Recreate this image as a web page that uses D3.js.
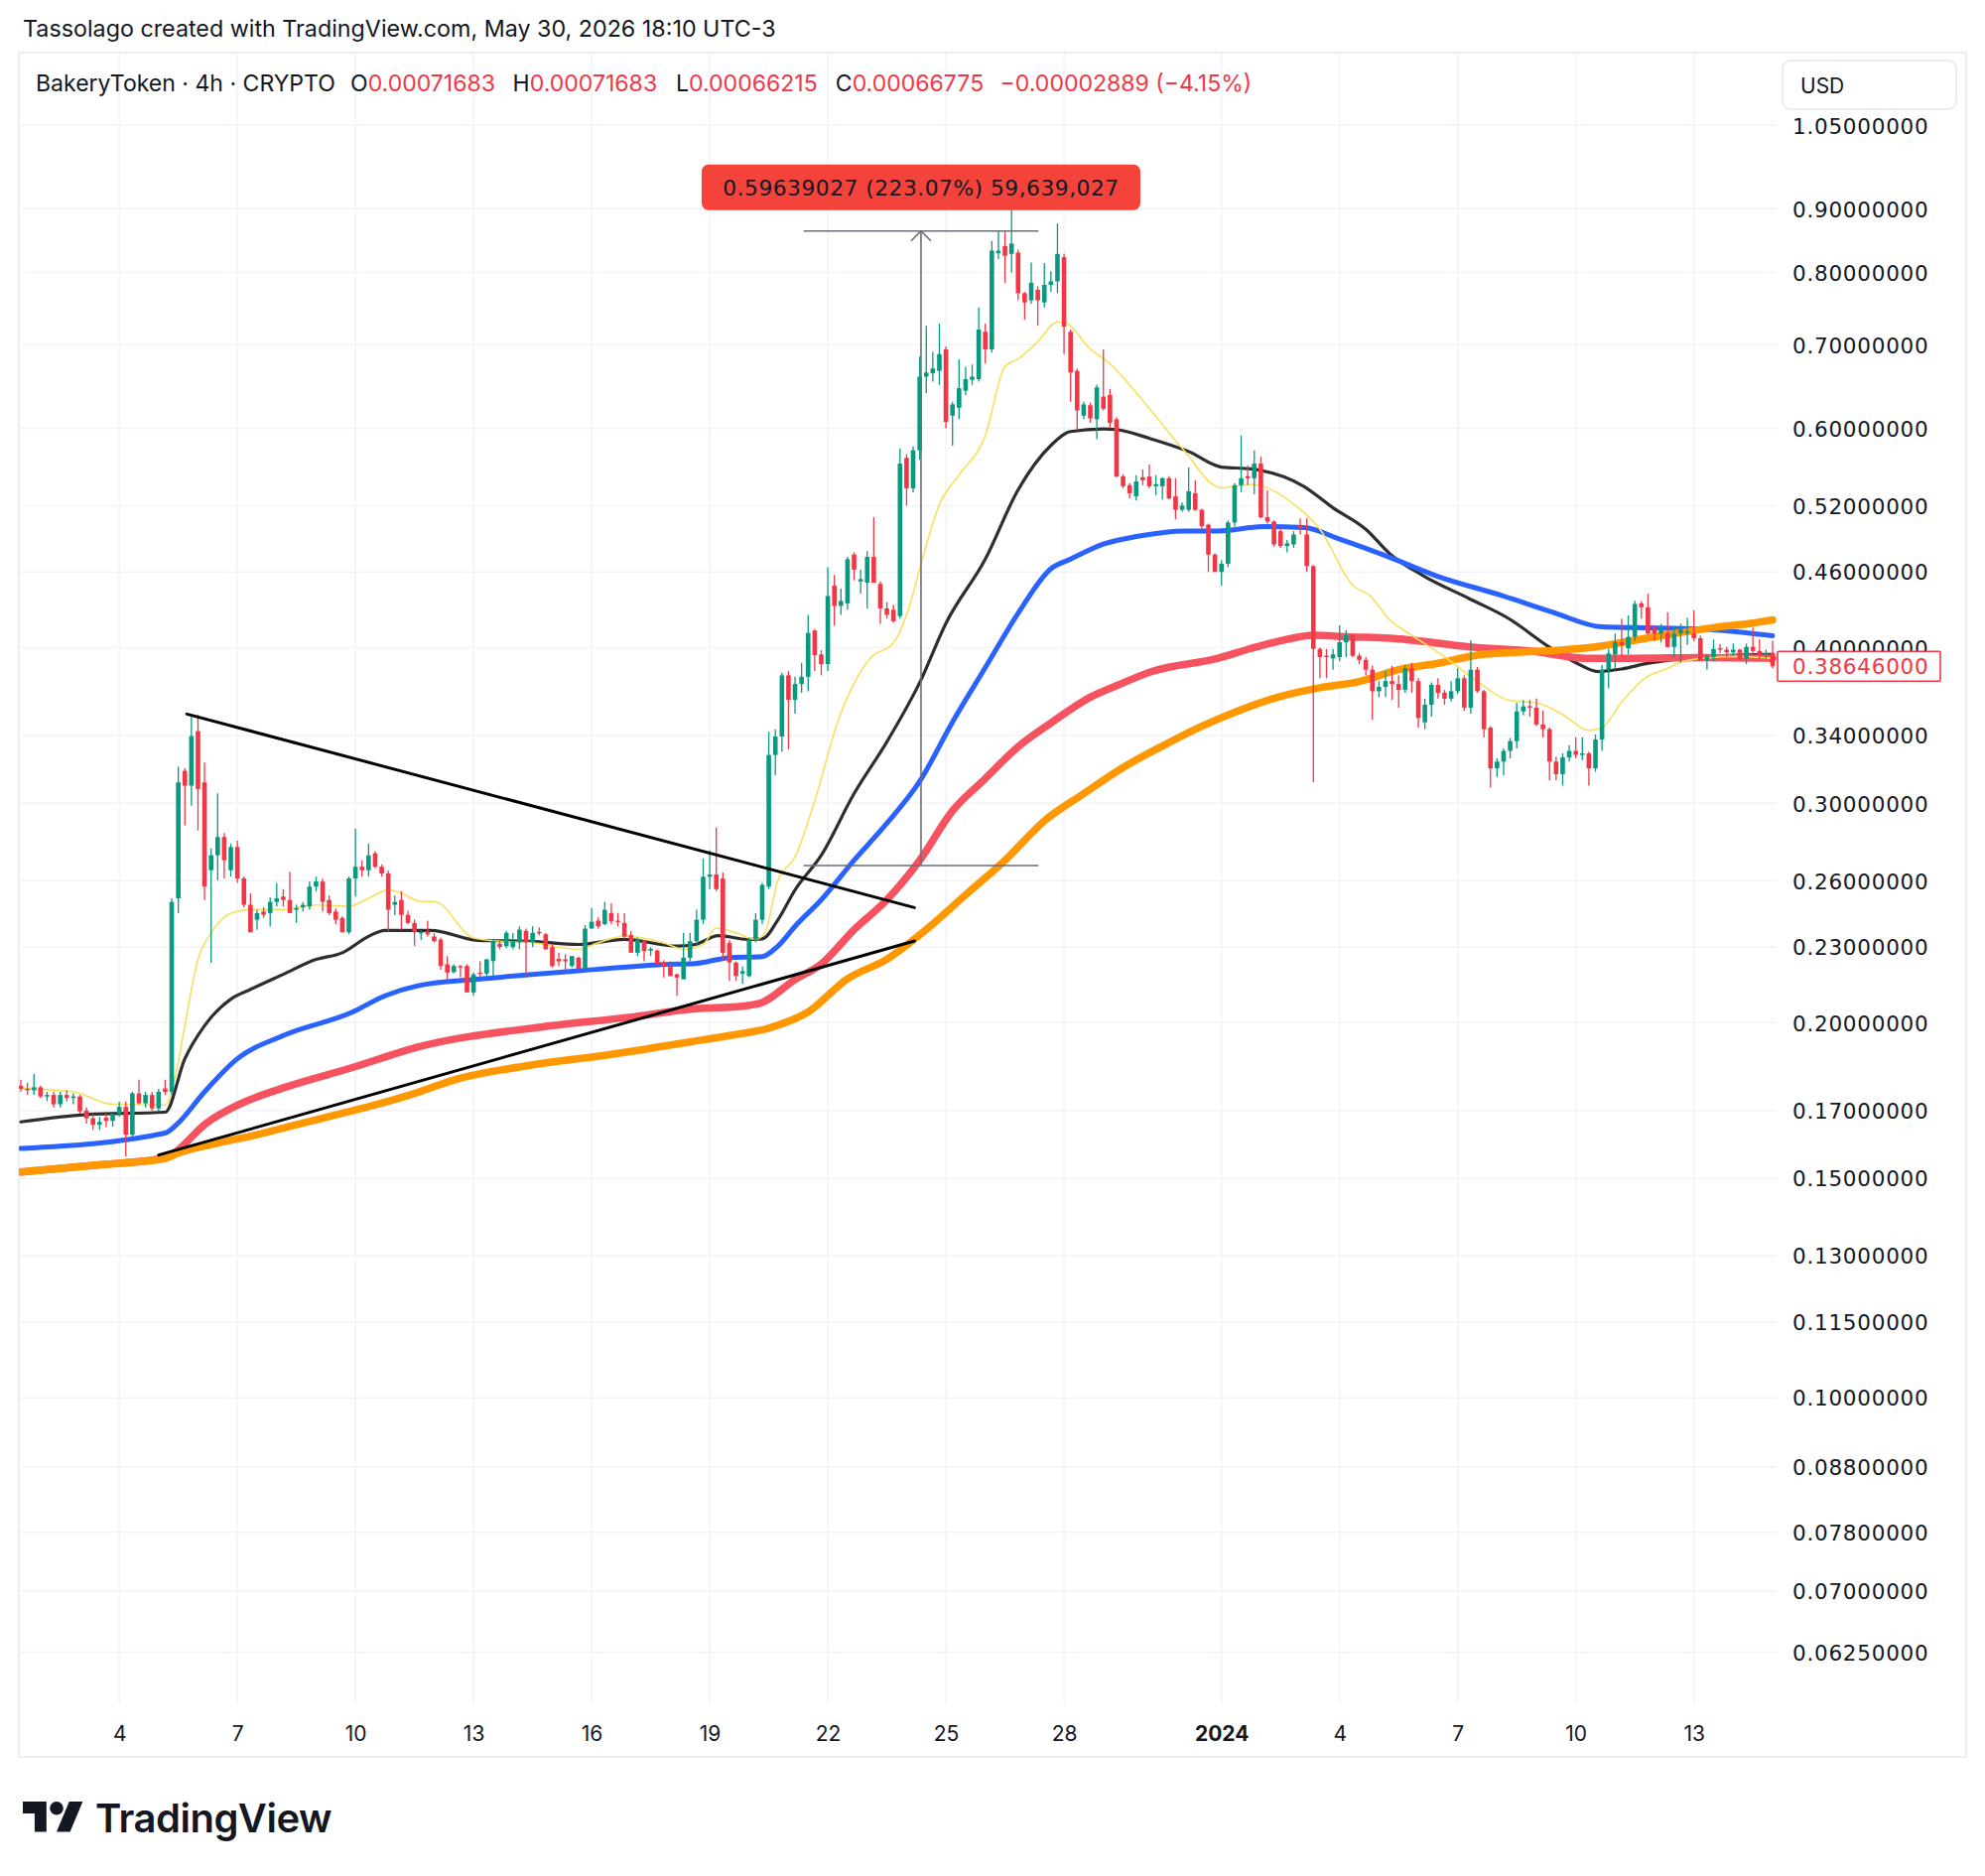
<!DOCTYPE html>
<html>
<head>
<meta charset="utf-8">
<script src="https://cdn.jsdelivr.net/npm/d3@7/dist/d3.min.js"></script>
<style>
  html, body { margin:0; padding:0; background:#ffffff; }
  svg { display:block; }
</style>
</head>
<body>
<svg id="chart" width="2000" height="1890" xmlns="http://www.w3.org/2000/svg"></svg>
<script>
// ================= DATA =================
const titleText = "Tassolago created with TradingView.com, May 30, 2026 18:10 UTC-3";
const symbolText = "BakeryToken · 4h · CRYPTO";
const legendKeys = ["O", "H", "L", "C"];
const legendValues = ["0.00071683", "0.00071683", "0.00066215", "0.00066775"];
const legendChange = "−0.00002889 (−4.15%)";
const currency = "USD";

const firstBar = "2023-12-01T12:00:00Z";   // first 4h candle
const barHours = 4;

const opens = [
.178,.177,.1765,.1775,.1745,.175,.172,.175,.174,.1745,
.170,.1676,.1656,.1678,.1668,.169,.1712,.1626,.1755,.1723,
.175,.1707,.1771,.176,.2517,.3185,.3099,.3428,.3118,.2651,
.2725,.2819,.2651,.2767,.2611,.2487,.2419,.2456,.2449,.250,
.2525,.2509,.2464,.2475,.2479,.2572,.2596,.2509,.2456,.2427,
.2364,.2611,.2668,.2651,.2735,.2668,.2635,.2487,.2509,.2441,
.2405,.236,.2367,.2345,.2332,.2228,.2196,.2221,.2221,.2115,
.2194,.219,.2241,.2314,.2304,.230,.232,.237,.232,.2365,
.2355,.230,.225,.2248,.2221,.2255,.221,.238,.2415,.240,
.2449,.2415,.2405,.2352,.2276,.2325,.2285,.2285,.2235,.2221,
.2187,.2167,.2255,.2325,.2419,.2619,.263,.2611,.2318,.2235,
.219,.218,.2332,.2419,.2572,.328,.3394,.380,.3632,.374,
.379,.4128,.395,.388,.4485,.432,.434,.475,.452,.451,
.473,.450,.430,.429,.424,.568,.537,.576,.660,.664,
.667,.694,.614,.623,.643,.656,.657,.717,.694,.829,
.840,.828,.830,.770,.760,.775,.757,.782,.787,.823,
.717,.667,.614,.626,.610,.636,.638,.610,.549,.540,
.5289,.548,.5487,.539,.539,.547,.5289,.516,.516,.532,
.516,.502,.475,.460,.467,.504,.540,.549,.547,.562,
.509,.505,.496,.4826,.484,.501,.493,.465,.399,.394,
.392,.393,.404,.4092,.394,.391,.384,.369,.372,.376,
.374,.370,.385,.376,.3484,.3599,.3734,.368,.364,.369,
.378,.358,.384,.369,.345,.320,.324,.3305,.3365,.3555,
.359,.358,.347,.344,.324,.3166,.3265,.3305,.328,.329,
.320,.3375,.384,.395,.404,.3995,.408,.434,.431,.415,
.4105,.4105,.4005,.4105,.411,.4105,.407,.3908,.393,.3995,
.3985,.3965,.3985,.392,.4005,.3975,.395,.396];

const highs = [
.180,.179,.182,.178,.176,.176,.176,.1765,.1755,.175,
.171,.169,.168,.169,.169,.1728,.173,.176,.180,.176,
.176,.177,.180,.2517,.321,.320,.3534,.3534,.3235,.276,
.3056,.284,.2785,.280,.262,.254,.2464,.2475,.252,.2588,
.256,.2643,.2487,.250,.2596,.262,.261,.253,.247,.2435,
.262,.2862,.270,.2785,.2745,.268,.265,.253,.255,.246,
.242,.237,.2415,.236,.234,.2262,.2228,.2225,.2228,.2194,
.224,.225,.2332,.2325,.237,.2361,.239,.238,.239,.2385,
.236,.231,.2276,.227,.2262,.226,.2395,.2472,.243,.250,
.2494,.245,.2449,.237,.234,.233,.230,.229,.2245,.224,
.219,.2361,.2361,.2464,.2709,.275,.287,.264,.233,.224,
.222,.234,.2449,.259,.3423,.344,.382,.383,.379,.389,
.425,.414,.398,.464,.4575,.446,.473,.477,.462,.478,
.509,.452,.435,.433,.578,.572,.580,.685,.725,.691,
.728,.698,.630,.681,.672,.675,.750,.728,.848,.864,
.864,.910,.835,.772,.815,.780,.814,.802,.876,.828,
.720,.670,.630,.629,.650,.694,.645,.612,.551,.542,
.550,.556,.561,.550,.548,.549,.547,.523,.558,.545,
.517,.503,.476,.470,.506,.542,.592,.560,.576,.569,
.535,.506,.499,.488,.496,.508,.508,.466,.400,.399,
.399,.4168,.413,.410,.396,.393,.387,.376,.383,.3868,
.380,.3873,.389,.378,.364,.375,.378,.370,.376,.385,
.380,.4055,.386,.370,.346,.326,.332,.3385,.361,.363,
.363,.364,.356,.345,.327,.329,.334,.339,.339,.330,
.3407,.3873,.399,.4105,.422,.4245,.4362,.436,.4418,.417,
.418,.427,.416,.418,.4225,.4285,.409,.395,.406,.4025,
.4005,.403,.399,.403,.415,.406,.3985,.405];

const lows = [
.176,.175,.175,.174,.173,.171,.171,.173,.172,.169,
.166,.164,.164,.1648,.165,.168,.1562,.162,.172,.171,
.170,.170,.175,.175,.2449,.288,.2987,.2853,.2509,.2234,
.2603,.2611,.262,.259,.2475,.2364,.2375,.2427,.239,.2479,
.2479,.2449,.2405,.2456,.2464,.255,.2456,.244,.240,.2364,
.2355,.2525,.262,.262,.266,.262,.2368,.244,.2375,.240,
.2304,.233,.2345,.232,.2205,.2167,.219,.2175,.2115,.2102,
.2174,.218,.218,.229,.2295,.229,.229,.218,.230,.235,
.229,.2215,.2221,.220,.2215,.2207,.2207,.238,.238,.2395,
.240,.239,.2335,.2276,.2262,.224,.2262,.2228,.2174,.218,
.2102,.2167,.224,.231,.240,.256,.255,.2248,.216,.216,
.215,.2175,.232,.240,.256,.316,.330,.3315,.354,.368,
.369,.383,.380,.383,.4165,.425,.429,.453,.442,.430,
.451,.418,.422,.419,.422,.520,.533,.566,.640,.654,
.650,.600,.581,.610,.638,.650,.654,.676,.690,.820,
.785,.800,.760,.733,.755,.725,.750,.772,.770,.688,
.630,.598,.610,.606,.588,.620,.600,.548,.537,.527,
.525,.540,.537,.530,.526,.526,.507,.514,.514,.515,
.498,.460,.460,.4485,.464,.500,.533,.540,.531,.508,
.503,.482,.481,.477,.481,.493,.460,.312,.378,.378,
.384,.390,.393,.393,.388,.380,.350,.365,.365,.3632,
.358,.368,.368,.345,.344,.352,.364,.3599,.362,.367,
.356,.354,.368,.3388,.309,.315,.316,.326,.332,.353,
.352,.346,.3388,.313,.313,.310,.324,.326,.325,.310,
.318,.3305,.371,.385,.394,.395,.405,.422,.410,.405,
.404,.400,.393,.389,.402,.405,.390,.384,.390,.396,
.393,.394,.391,.388,.395,.391,.392,.385];

const closes = [
.177,.1765,.1775,.1745,.175,.172,.175,.174,.1745,.1698,
.1676,.1656,.1665,.1668,.169,.1712,.1626,.1755,.1723,.175,
.1707,.176,.176,.250,.3118,.3099,.3397,.308,.2572,.2725,
.2819,.270,.2767,.2611,.2487,.2364,.2449,.2441,.250,.2517,
.2509,.2449,.2472,.2487,.2572,.2596,.250,.2449,.2419,.2364,
.2611,.2668,.2651,.2725,.2668,.2635,.2464,.250,.2441,.2405,
.2364,.2365,.2355,.2325,.2221,.2194,.2221,.2215,.2115,.2187,
.219,.2248,.2325,.230,.2361,.2325,.2375,.232,.2361,.2361,
.229,.2221,.224,.224,.2262,.221,.238,.241,.239,.2464,
.2412,.241,.2345,.2276,.2332,.2283,.2292,.2228,.2221,.218,
.2174,.2255,.2325,.2419,.2619,.263,.256,.2276,.2235,.218,
.220,.2332,.2419,.258,.328,.3394,.380,.3632,.374,.379,
.411,.3945,.388,.440,.432,.436,.471,.462,.454,.473,
.451,.430,.425,.420,.562,.537,.576,.660,.665,.670,
.688,.607,.627,.646,.657,.660,.720,.694,.833,.833,
.825,.844,.770,.757,.785,.760,.782,.787,.828,.724,
.665,.620,.627,.611,.647,.622,.606,.5487,.539,.532,
.5437,.545,.539,.541,.547,.527,.516,.520,.534,.516,
.5006,.475,.460,.467,.504,.540,.547,.547,.562,.509,
.505,.484,.4826,.485,.493,.499,.465,.399,.393,.393,
.395,.404,.4092,.394,.391,.384,.369,.372,.376,.374,
.370,.385,.376,.3512,.3599,.3734,.3678,.364,.369,.378,
.358,.384,.369,.344,.320,.324,.3305,.3365,.3555,.3588,
.358,.347,.344,.324,.3166,.3265,.3305,.328,.329,.320,
.3375,.384,.3957,.404,.402,.408,.4336,.431,.4105,.4105,
.4155,.4005,.4105,.414,.412,.407,.3908,.3935,.399,.3985,
.3965,.3985,.392,.4005,.3975,.395,.396,.38646];

// moving averages: [bar index, value]
const maYellow = [[0,.1771],[8,.1760],[14,.1720],[22,.1718],[24,.1860],[25,.1989],[27,.2248],[29,.2361],[32,.2449],[35,.2465],[40,.2465],[45,.2486],[50,.2480],[53,.2517],[56,.2556],[58,.2541],[61,.2502],[63,.2502],[69,.2339],[73,.2325],[78,.2318],[85,.2290],[88,.2318],[92,.2347],[98,.2318],[101,.2290],[104,.2311],[106,.2382],[109,.2361],[112,.2333],[113.4,.2361],[115.4,.2603],[118,.2717],[121,.3013],[124.5,.3486],[129.5,.3925],[133,.4034],[136,.4420],[137,.4627],[140,.5209],[143,.5502],[147,.5919],[150,.6725],[152,.6819],[155,.7040],[158,.7302],[159,.7297],[163,.6945],[166,.6758],[172,.6222],[177,.5782],[183,.5373],[187.5,.5408],[195,.5164],[198,.4978],[203,.4487],[205.6,.4403],[208.7,.4207],[212,.4092],[217,.3933],[222,.3757],[227,.3627],[231,.3612],[235,.3534],[239,.3432],[241,.3450],[244,.3617],[247.5,.3780],[251,.3850],[253.5,.3902],[261,.3935],[267,.3922]];
const maBlack = [[0,.1665],[10,.1688],[22,.1695],[25,.1871],[28,.1989],[32,.2089],[35,.2127],[40,.2187],[45,.2248],[49,.2276],[53,.2346],[55.5,.2372],[60.5,.2372],[62.5,.2372],[69.6,.2329],[77.6,.2325],[85,.2311],[92,.2333],[100,.2304],[102.8,.2311],[106.3,.2349],[110.8,.2333],[113,.2335],[115.4,.2419],[118,.2556],[122,.2725],[127,.3054],[132,.3361],[137,.3750],[141,.4184],[147,.4711],[152,.5354],[157,.5812],[160,.5963],[165,.5992],[167,.5985],[172,.5889],[178,.5747],[183,.5584],[187.5,.5565],[195.5,.5390],[200,.5179],[205,.4978],[208.7,.4755],[213.7,.4570],[220.8,.4378],[226.8,.4220],[232.9,.4006],[236.9,.3893],[240.4,.3827],[244,.3845],[248,.3886],[256,.3930],[267,.3950]];
const maBlue = [[0,.1585],[22,.1631],[23.7,.1656],[28,.1760],[33,.1871],[40,.1953],[50.4,.2038],[55.5,.2102],[60.5,.2141],[69.6,.2167],[87.7,.2207],[97.8,.2227],[102.8,.2231],[107.8,.2255],[113,.2260],[115.4,.2304],[118,.2390],[122,.2510],[127,.2700],[132,.2891],[137,.3124],[142,.3486],[147,.3855],[152,.4262],[157,.4627],[160,.4711],[165,.4843],[170,.4911],[177.4,.4962],[182.5,.4962],[189.5,.5002],[195.6,.4993],[201,.4888],[208.7,.4725],[215.7,.4568],[225.8,.4403],[233.4,.4272],[241,.4156],[246,.4150],[256,.4140],[267,.4088]];
const maRed = [[0,.1518],[12,.1538],[22,.1558],[23.2,.1570],[28.2,.1660],[33.3,.1720],[40.3,.1775],[50.4,.1840],[60.5,.1912],[79.6,.1985],[92.7,.2020],[102.8,.2052],[110.4,.2063],[112.9,.2075],[118,.2166],[122,.2229],[127,.2375],[132,.2510],[137,.2700],[142,.2958],[147,.3140],[152,.3330],[157,.3480],[163,.3650],[167.3,.3734],[172.4,.3827],[182.5,.3922],[187.5,.3994],[192.5,.4056],[197,.4092],[202.6,.4080],[208.7,.4070],[220.8,.4006],[230.9,.3970],[238.4,.3922],[246,.3922],[256,.3927],[267,.3922]];
const maOrange = [[0,.1518],[12,.1538],[22,.1556],[24,.1572],[30,.1601],[36,.1626],[42,.1656],[48,.1687],[54,.1718],[60,.1755],[66,.1799],[78,.1850],[90,.1886],[102,.1930],[108,.1953],[114,.1980],[120,.2040],[126,.2169],[132,.2249],[138,.2376],[144,.2533],[150,.2700],[156,.2904],[162,.3054],[168,.3205],[174,.3335],[180,.3459],[186,.3567],[192,.3655],[198,.3714],[204,.3757],[210,.3840],[216,.3886],[222,.3945],[228,.3965],[234,.3980],[240,.4005],[246,.4055],[252,.4105],[258,.4150],[264,.4185],[267,.4210]];

// drawings
const trendUpper = [[25.3, .3538], [136.2, .2474]];
const trendLower = [[21, .1566], [136.2, .2326]];
const measureBars = [119.3, 137.2, 155.1];      // left, arrow, right
const measurePrices = [0.26736, 0.86375];       // from, to
const measureText = "0.59639027 (223.07%) 59,639,027";

// axes
const priceTicks = [1.05, 0.9, 0.8, 0.7, 0.6, 0.52, 0.46, 0.40, 0.34, 0.30, 0.26, 0.23, 0.20, 0.17, 0.15, 0.13, 0.115, 0.10, 0.088, 0.078, 0.07, 0.0625];
const dayTickDates = ["2023-12-04","2023-12-07","2023-12-10","2023-12-13","2023-12-16","2023-12-19","2023-12-22","2023-12-25","2023-12-28","2024-01-01","2024-01-04","2024-01-07","2024-01-10","2024-01-13"];
const dayTickLabels = ["4","7","10","13","16","19","22","25","28","2024","4","7","10","13"];

// ================= RENDER =================
const t0 = Date.parse(firstBar);
const barMs = barHours * 3600 * 1000;
const barTime = i => new Date(t0 + i * barMs);
const nBars = closes.length;
const lastPrice = closes[nBars - 1];

const UP = "#089981", DOWN = "#f23645", TXT = "#131722";
const plot = {left: 19, right: 1790, top: 53, bottom: 1717};
const frame = {left: 19, right: 1981, top: 53, bottom: 1770};

const x = d3.scaleUtc().domain([barTime(0), barTime(nBars - 1)]).range([21, 1786]);
const y = d3.scaleLog().domain([0.1, 1.05]).range([1408.2, 126.3]);

const svg = d3.select("#chart");
svg.append("rect").attr("width", 2000).attr("height", 1890).attr("fill", "#ffffff");

svg.append("defs").append("clipPath").attr("id", "plotClip").append("rect")
  .attr("x", plot.left).attr("y", plot.top)
  .attr("width", plot.right - plot.left).attr("height", plot.bottom - plot.top);

function fit(sel, target) {
  const w = sel.node().getComputedTextLength();
  const fs = parseFloat(sel.attr("font-size"));
  sel.attr("font-size", (fs * target / w).toFixed(2));
}

// grid
const grid = svg.append("g");
grid.selectAll("line.h").data(priceTicks).join("line").attr("class", "h")
  .attr("x1", plot.left).attr("x2", plot.right)
  .attr("y1", d => y(d)).attr("y2", d => y(d))
  .attr("stroke", "#f0f3fa").attr("stroke-width", 1.5);
grid.selectAll("line.v").data(dayTickDates).join("line").attr("class", "v")
  .attr("x1", d => x(new Date(d + "T00:00:00Z"))).attr("x2", d => x(new Date(d + "T00:00:00Z")))
  .attr("y1", plot.top).attr("y2", plot.bottom)
  .attr("stroke", "#f0f3fa").attr("stroke-width", 1.5);

// frame
svg.append("rect").attr("x", frame.left).attr("y", frame.top)
  .attr("width", frame.right - frame.left).attr("height", frame.bottom - frame.top)
  .attr("fill", "none").attr("stroke", "#eceef2").attr("stroke-width", 2);

const plotG = svg.append("g").attr("clip-path", "url(#plotClip)");

// moving averages
const maLine = d3.line().x(d => x(barTime(d[0]))).y(d => y(d[1])).curve(d3.curveMonotoneX);
const maDefs = [
  {data: maBlack, color: "#2e2e30", w: 3.2},
  {data: maBlue, color: "#2962ff", w: 5},
  {data: maRed, color: "#f7525f", w: 7.5},
  {data: maOrange, color: "#ff9800", w: 7.5},
  {data: maYellow, color: "#f7e05a", w: 1.6}
];
plotG.selectAll("path.ma").data(maDefs).join("path").attr("class", "ma")
  .attr("d", d => maLine(d.data)).attr("fill", "none")
  .attr("stroke", d => d.color).attr("stroke-width", d => d.w)
  .attr("stroke-linejoin", "round").attr("stroke-linecap", "round");

// candles
const idx = d3.range(nBars);
const bw = 4.6;
const col = i => closes[i] >= opens[i] ? UP : DOWN;
plotG.selectAll("line.wick").data(idx).join("line").attr("class", "wick")
  .attr("x1", i => x(barTime(i))).attr("x2", i => x(barTime(i)))
  .attr("y1", i => y(highs[i])).attr("y2", i => y(lows[i]))
  .attr("stroke", col).attr("stroke-width", 1.3);
plotG.selectAll("rect.body").data(idx).join("rect").attr("class", "body")
  .attr("x", i => x(barTime(i)) - bw / 2).attr("width", bw)
  .attr("y", i => y(Math.max(opens[i], closes[i])))
  .attr("height", i => Math.max(1.4, Math.abs(y(opens[i]) - y(closes[i]))))
  .attr("fill", col);

// trend lines
const tl = d3.line().x(d => x(barTime(d[0]))).y(d => y(d[1]));
plotG.selectAll("path.trend").data([trendUpper, trendLower]).join("path").attr("class", "trend")
  .attr("d", tl).attr("stroke", "#000").attr("stroke-width", 3).attr("fill", "none")
  .attr("stroke-linecap", "round");

// measurement tool
const mg = plotG.append("g").attr("stroke", "#6a6d78").attr("stroke-width", 1.6).attr("fill", "none");
const mx0 = x(barTime(measureBars[0])), mxA = x(barTime(measureBars[1])), mx1 = x(barTime(measureBars[2]));
const myLo = y(measurePrices[0]), myHi = y(measurePrices[1]);
mg.append("line").attr("x1", mx0).attr("x2", mx1).attr("y1", myLo).attr("y2", myLo);
mg.append("line").attr("x1", mx0).attr("x2", mx1).attr("y1", myHi).attr("y2", myHi);
mg.append("line").attr("x1", mxA).attr("x2", mxA).attr("y1", myLo).attr("y2", myHi);
mg.append("path").attr("d", `M${mxA - 10},${myHi + 10}L${mxA},${myHi}L${mxA + 10},${myHi + 10}`);

const mlab = svg.append("g");
mlab.append("rect").attr("x", mxA - 221).attr("y", myHi - 67).attr("width", 442).attr("height", 46)
  .attr("rx", 7).attr("fill", "#f4433a");
const mText = mlab.append("text").attr("x", mxA).attr("y", myHi - 44).attr("dy", "0.36em")
  .attr("text-anchor", "middle").attr("font-family", "DejaVu Sans").attr("font-size", 21)
  .attr("letter-spacing", 0.5).attr("fill", "#131722").text(measureText);
fit(mText, 400);

// y axis
const yAxis = d3.axisRight(y).tickValues(priceTicks).tickFormat(d => d.toFixed(8)).tickSize(0).tickPadding(0);
const yg = svg.append("g").attr("transform", "translate(1806,0)").call(yAxis);
yg.select(".domain").remove();
yg.selectAll("text").attr("font-family", "DejaVu Sans").attr("font-size", 21.5)
  .attr("letter-spacing", 0.75).attr("fill", TXT).attr("x", 0).attr("dy", "0.36em");

// last price label
const ly = y(lastPrice);
svg.append("rect").attr("x", 1791).attr("y", ly - 15).attr("width", 164).attr("height", 30)
  .attr("fill", "#ffffff").attr("stroke", DOWN).attr("stroke-width", 1.6).attr("rx", 1);
svg.append("text").attr("x", 1806).attr("y", ly).attr("dy", "0.36em")
  .attr("font-family", "DejaVu Sans").attr("font-size", 21.5).attr("letter-spacing", 0.75)
  .attr("fill", DOWN).text(lastPrice.toFixed(8));

// x axis
const xAxis = d3.axisBottom(x).tickValues(dayTickDates.map(d => new Date(d + "T00:00:00Z")))
  .tickFormat((d, i) => dayTickLabels[i]).tickSize(0).tickPadding(0);
const xg = svg.append("g").attr("transform", "translate(0,1746)").call(xAxis);
xg.select(".domain").remove();
xg.selectAll("text").attr("font-family", "Inter").attr("font-size", 21).attr("fill", TXT)
  .attr("y", 0).attr("dy", "0.36em")
  .attr("font-weight", (d, i) => dayTickLabels[i] === "2024" ? 700 : 400);

// title
const title = svg.append("text").attr("x", 23).attr("y", 29).attr("dy", "0.36em")
  .attr("font-family", "Inter").attr("font-size", 21).attr("fill", TXT).text(titleText);
fit(title, 759);

// legend
const lg = svg.append("g").attr("font-family", "Inter").attr("fill", TXT);
const sym = lg.append("text").attr("x", 36).attr("y", 84).attr("dy", "0.36em").attr("font-size", 21).text(symbolText);
fit(sym, 302);
const lfs = sym.attr("font-size");
const keyX = [353, 516.6, 681, 841.8];
legendKeys.forEach((k, i) => {
  const t = lg.append("text").attr("x", keyX[i]).attr("y", 84).attr("dy", "0.36em").attr("font-size", lfs);
  t.append("tspan").attr("fill", TXT).text(k);
  t.append("tspan").attr("fill", DOWN).text(legendValues[i]);
});
lg.append("text").attr("x", 1007.6).attr("y", 84).attr("dy", "0.36em").attr("font-size", lfs)
  .attr("fill", DOWN).text(legendChange);

// currency box
svg.append("rect").attr("x", 1796).attr("y", 61).attr("width", 175).attr("height", 49)
  .attr("rx", 8).attr("fill", "#fff").attr("stroke", "#e6e8ee").attr("stroke-width", 1.5);
svg.append("text").attr("x", 1814).attr("y", 86).attr("dy", "0.36em").attr("font-family", "Inter")
  .attr("font-size", 21).attr("fill", TXT).text(currency);

// logo
const logo = svg.append("g").attr("transform", "translate(23,1808.2) scale(1.7)").attr("fill", "#131722");
logo.append("path").attr("d", "M14 22H7V11H0V4h14v18zM28 22h-8l7.5-18h8L28 22z");
logo.append("circle").attr("cx", 20).attr("cy", 8).attr("r", 4);
const lt = svg.append("text").attr("x", 96).attr("y", 1846).attr("font-family", "Inter")
  .attr("font-weight", 600).attr("font-size", 40).attr("letter-spacing", -0.5).attr("fill", "#131722").text("TradingView");
fit(lt, 238);
</script>
</body>
</html>
